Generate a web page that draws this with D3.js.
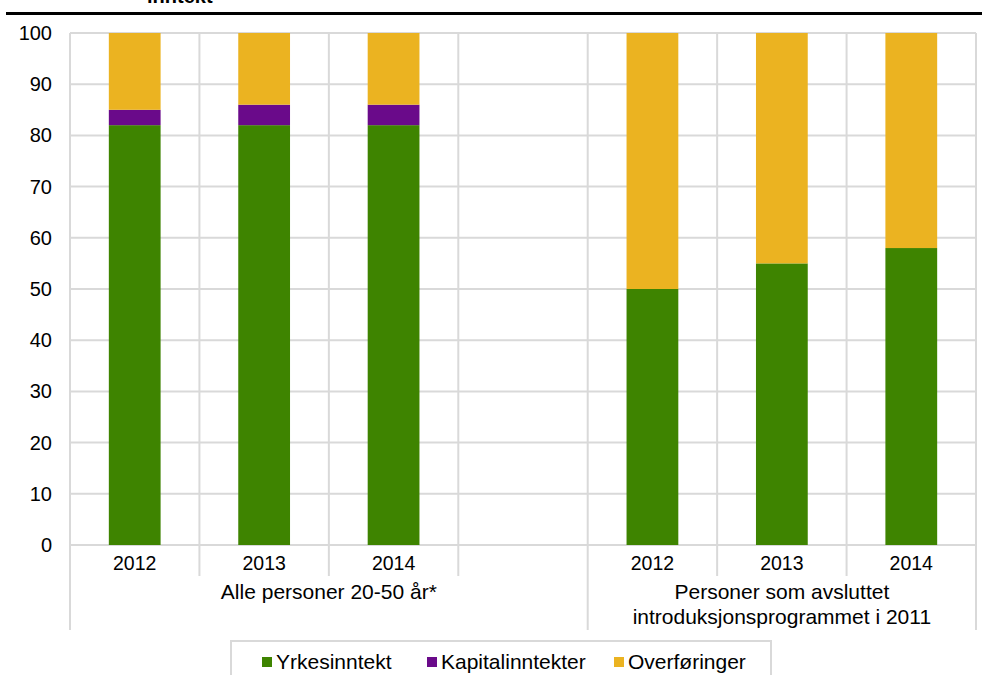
<!DOCTYPE html>
<html><head><meta charset="utf-8">
<script src="https://cdn.jsdelivr.net/npm/d3@7"></script>
<style>body{margin:0;background:#fff}svg{display:block}text{font-family:"Liberation Sans",Arial,sans-serif;fill:#000}</style>
</head><body><svg id="c" width="982" height="675"></svg>
<script>
const slots = ["a2012","a2013","a2014","gap","b2012","b2013","b2014"];
const yearLabels = ["2012","2013","2014","","2012","2013","2014"];
const groupLabels = [["Alle personer 20-50 år*"],["Personer som avsluttet","introduksjonsprogrammet i 2011"]];
const groupSpans = [[0,4],[4,7]];
const seriesNames = ["Yrkesinntekt","Kapitalinntekter","Overføringer"];
const seriesColors = ["#3e8400","#6a0a8a","#ebb321"];
const yrkesinntekt = [82,82,82,null,50,55,58];
const kapitalinntekter = [3,4,4,null,0,0,0];
const overforinger = [15,14,14,null,50,45,42];
const yTicks = [0,10,20,30,40,50,60,70,80,90,100];

const svg = d3.select("#c");
const L=70,R=976,T=33,B=545;
const x = d3.scaleBand().domain(slots).range([L,R]).padding(0);
const y = d3.scaleLinear().domain([0,100]).range([B,T]);
const grid="#d9d9d9";

// title remnant and rule
svg.append("text").attr("x",147).attr("y",3).attr("font-weight","bold").attr("font-size",20).text("inntekt");
svg.append("line").attr("x1",6).attr("x2",982).attr("y1",13.5).attr("y2",13.5).attr("stroke","#000").attr("stroke-width",3);

// horizontal grid
svg.append("g").selectAll("line").data(yTicks).join("line")
  .attr("x1",L).attr("x2",R).attr("y1",d=>y(d)).attr("y2",d=>y(d))
  .attr("stroke",grid).attr("stroke-width",2);
// vertical grid / category boundaries
const bounds = d3.range(slots.length+1);
const groupBounds = new Set([0,4,7]);
svg.append("g").selectAll("line").data(bounds).join("line")
  .attr("x1",i=>i<slots.length?x(slots[i]):R).attr("x2",i=>i<slots.length?x(slots[i]):R)
  .attr("y1",T).attr("y2",i=>groupBounds.has(i)?630:576)
  .attr("stroke",grid).attr("stroke-width",2);

// y labels
svg.append("g").selectAll("text").data(yTicks).join("text")
  .attr("x",52).attr("y",d=>y(d)+7).attr("text-anchor","end").attr("font-size",20).text(d=>d);

// stacked bars
const rows = slots.map((s,i)=>({slot:s,Yrkesinntekt:yrkesinntekt[i]||0,Kapitalinntekter:kapitalinntekter[i]||0,"Overføringer":overforinger[i]||0,valid:yrkesinntekt[i]!=null}));
const stack = d3.stack().keys(seriesNames)(rows.filter(r=>r.valid));
const bw = x.bandwidth()*0.4;
svg.append("g").selectAll("g").data(stack).join("g").attr("fill",(d,i)=>seriesColors[i])
  .selectAll("rect").data(d=>d.filter(p=>p[1]>p[0])).join("rect")
  .attr("x",d=>x(d.data.slot)+(x.bandwidth()-bw)/2).attr("width",bw)
  .attr("y",d=>y(d[1])).attr("height",d=>y(d[0])-y(d[1]));

// year labels
svg.append("g").selectAll("text").data(slots).join("text")
  .attr("x",d=>x(d)+x.bandwidth()/2).attr("y",570).attr("text-anchor","middle").attr("font-size",19.5)
  .text((d,i)=>yearLabels[i]);

// group labels
groupLabels.forEach((lines,gi)=>{
  const [a,b]=groupSpans[gi];
  const x0=x(slots[a]), x1=b<slots.length?x(slots[b]):R;
  const t=svg.append("text").attr("text-anchor","middle").attr("font-size",21);
  lines.forEach((ln,li)=>t.append("tspan").attr("x",(x0+x1)/2).attr("y",599+li*25).text(ln));
});

// legend
svg.append("rect").attr("x",231).attr("y",641).attr("width",540).attr("height",60).attr("fill","#fff").attr("stroke",grid).attr("stroke-width",2);
const legX=[262,427,614];
const lg=svg.append("g").selectAll("g").data(seriesNames).join("g").attr("transform",(d,i)=>`translate(${legX[i]},0)`);
lg.append("rect").attr("x",0).attr("y",657).attr("width",10).attr("height",10).attr("fill",(d,i)=>seriesColors[i]);
lg.append("text").attr("x",14).attr("y",669).attr("font-size",21).text(d=>d);
</script></body></html>
